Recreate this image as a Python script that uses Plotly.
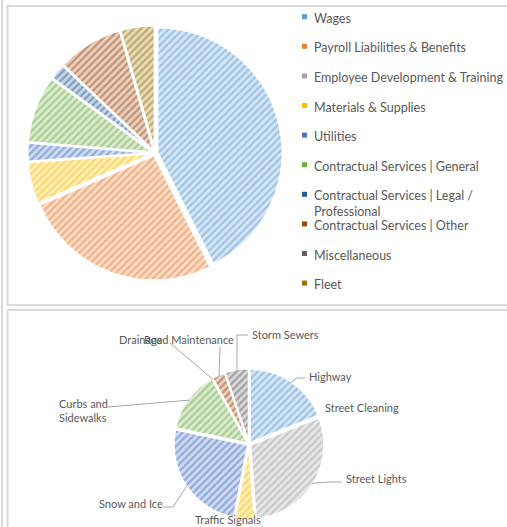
import plotly.graph_objects as go
import math

# ---- data -------------------------------------------------------------
top_labels = [
    "Wages",
    "Payroll Liabilities & Benefits",
    "Employee Development & Training",
    "Materials & Supplies",
    "Utilities",
    "Contractual Services | General",
    "Contractual Services | Legal / Professional",
    "Contractual Services | Other",
    "Miscellaneous",
    "Fleet",
]
top_values = [42.6, 25.9, 0, 5.4, 2.4, 8.7, 2.1, 8.5, 0, 4.4]

bottom_labels = [
    "Highway",
    "Street Cleaning",
    "Street Lights",
    "Traffic Signals",
    "Snow and Ice",
    "Curbs and Sidewalks",
    "Drainage",
    "Road Maintenance",
    "Storm Sewers",
]
bottom_values = [19.0, 0, 29.8, 4.2, 25.3, 13.6, 0, 2.9, 5.2]

# ---- styling ----------------------------------------------------------
W, H = 507, 527
PALETTE = ["#5B9BD5", "#ED7D31", "#A5A5A5", "#FFC000", "#4472C4",
           "#70AD47", "#255E91", "#9E480E", "#636363", "#997300"]
FONT = "Lato"
TEXT = "#595959"
BORDER = "#D9D9D9"
LEADER = "#A6A6A6"
PULL = 0.02


def tint(hexcol, t):
    """Mix a colour with white; t=1 keeps the colour, t=0 gives white."""
    h = hexcol.lstrip("#")
    r, g, b = (int(h[i:i + 2], 16) for i in (0, 2, 4))
    mix = lambda c: round(c * t + 255 * (1 - t))
    return "#{:02X}{:02X}{:02X}".format(mix(r), mix(g), mix(b))


def px(x):
    return x / W


def py(y):
    return 1 - y / H


def pie_trace(labels, values, cx, cy, r):
    n = len(values)
    cols = PALETTE[:n]
    half = r * (1 + PULL)
    return go.Pie(
        labels=labels,
        values=values,
        sort=False,
        direction="clockwise",
        rotation=0,
        pull=[PULL] * n,
        textinfo="none",
        hoverinfo="label+percent",
        showlegend=False,
        marker=dict(
            colors=[tint(c, 0.25) for c in cols],
            line=dict(color="white", width=2),
            pattern=dict(shape="/", size=5, solidity=0.45,
                         fgcolor=[tint(c, 0.6) for c in cols],
                         bgcolor=[tint(c, 0.25) for c in cols],
                         fillmode="replace"),
        ),
        domain=dict(x=[px(cx - half), px(cx + half)],
                    y=[py(cy + half), py(cy - half)]),
    )


TOP_C, TOP_R = (155, 153), 125
BOT_C, BOT_R = (249, 444), 74

fig = go.Figure()
fig.add_trace(pie_trace(top_labels, top_values, *TOP_C, TOP_R))
fig.add_trace(pie_trace(bottom_labels, bottom_values, *BOT_C, BOT_R))

shapes = []
annotations = []

# panel frames
shapes.append(dict(type="line", xref="paper", yref="paper",
                   x0=px(2), x1=px(2), y0=0, y1=1,
                   line=dict(color=BORDER, width=2)))
shapes.append(dict(type="rect", xref="paper", yref="paper",
                   x0=px(7.5), x1=px(520), y0=py(305), y1=py(6),
                   line=dict(color=BORDER, width=2)))
shapes.append(dict(type="rect", xref="paper", yref="paper",
                   x0=px(7.5), x1=px(520), y0=py(540), y1=py(310),
                   line=dict(color=BORDER, width=2)))

# legend for the upper pie
LEG_X, LEG_Y0, LEG_DY = 302, 16.7, 29.6
for i, name in enumerate(top_labels):
    y = LEG_Y0 + i * LEG_DY
    shapes.append(dict(type="rect", xref="paper", yref="paper",
                       x0=px(LEG_X), x1=px(LEG_X + 5),
                       y0=py(y + 2.5), y1=py(y - 2.5),
                       fillcolor=PALETTE[i], line=dict(width=0)))
    text = name
    if name == "Contractual Services | Legal / Professional":
        text = "Contractual Services | Legal /<br>Professional"
    annotations.append(dict(
        x=px(312), y=py(y - 8), xref="paper", yref="paper",
        xanchor="left", yanchor="top", align="left",
        text=text, showarrow=False,
        font=dict(family=FONT, size=12.5, color=TEXT)))

# labels around the lower pie: text box left/centre position and leader path
label_layout = {
    "Highway": dict(x=307, y=376, elbow=[(297, 378), (305, 378)]),
    "Street Cleaning": dict(x=323, y=407, elbow=None),
    "Street Lights": dict(x=344, y=478, elbow=[(330, 482), (342, 482)]),
    "Traffic Signals": dict(x=193, y=519, elbow=None),
    "Snow and Ice": dict(x=97, y=503, elbow=[(173, 507), (163, 507)]),
    "Curbs and Sidewalks": dict(x=57, y=410, elbow=[(108, 407)]),
    "Drainage": dict(x=117, y=339, elbow=[(170, 343)]),
    "Road Maintenance": dict(x=142, y=339, elbow=[(220, 347)]),
    "Storm Sewers": dict(x=250, y=334, elbow=[(237, 335), (248, 335)]),
}

total = sum(bottom_values)
acc = 0.0
for name, v in zip(bottom_labels, bottom_values):
    mid = (acc + v / 2) / total * 2 * math.pi
    acc += v
    ex = BOT_C[0] + BOT_R * math.sin(mid)
    ey = BOT_C[1] - BOT_R * math.cos(mid)
    lay = label_layout[name]
    text = "Curbs and<br>Sidewalks" if name == "Curbs and Sidewalks" else name
    annotations.append(dict(
        x=px(lay["x"]), y=py(lay["y"]), xref="paper", yref="paper",
        xanchor="left", yanchor="middle", align="left",
        text=text, showarrow=False,
        font=dict(family=FONT, size=11, color=TEXT)))
    if lay["elbow"]:
        pts = [(ex, ey)] + lay["elbow"]
        path = "M " + " L ".join(f"{px(a)},{py(b)}" for a, b in pts)
        shapes.append(dict(type="path", xref="paper", yref="paper",
                           path=path, line=dict(color=LEADER, width=1)))

fig.update_layout(
    width=W, height=H,
    margin=dict(l=0, r=0, t=0, b=0),
    paper_bgcolor="white",
    plot_bgcolor="white",
    shapes=shapes,
    annotations=annotations,
    font=dict(family=FONT, color=TEXT),
)

fig.write_html("out.html")
